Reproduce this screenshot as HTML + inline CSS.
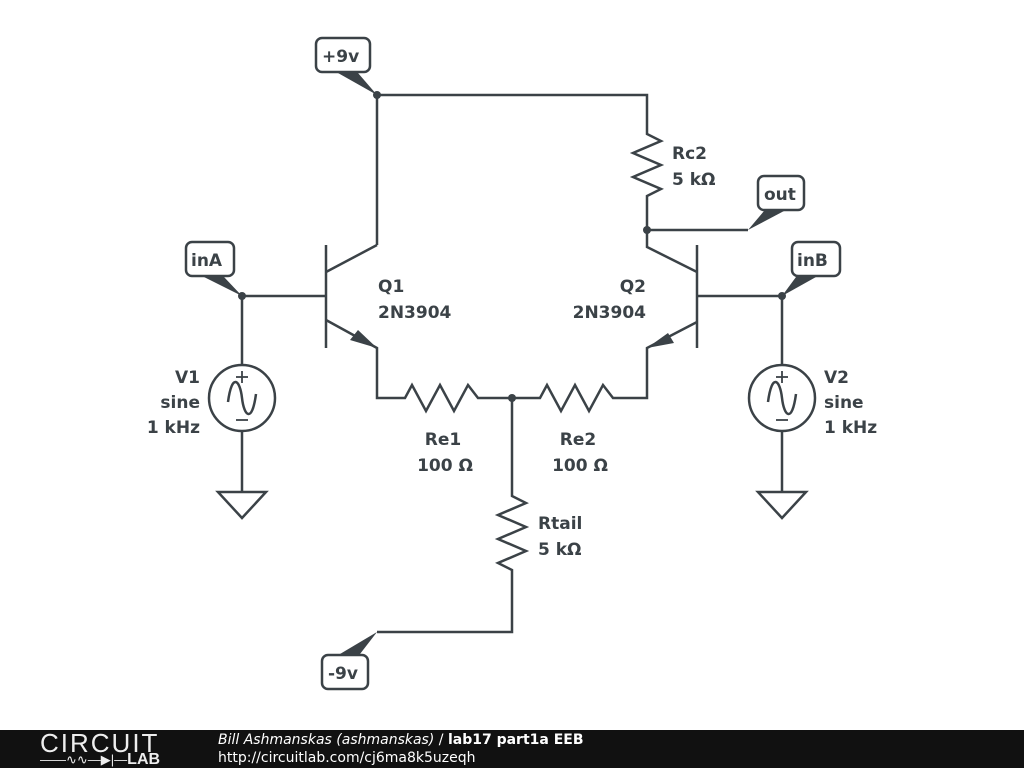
<!DOCTYPE html>
<html><head><meta charset="utf-8"><style>
body{margin:0;width:1024px;height:768px;background:#fff;overflow:hidden;font-family:"Liberation Sans",sans-serif}
svg text{font-family:"DejaVu Sans","Liberation Sans",sans-serif;font-weight:bold;font-size:17px;fill:#3b4247}
#foot{position:absolute;left:0;top:730px;width:1024px;height:38px;background:#111;color:#fff}
</style></head><body>
<svg width="1024" height="730" viewBox="0 0 1024 730" style="position:absolute;left:0;top:0">
<g fill="none" stroke="#3b4247" stroke-width="2.5" stroke-linejoin="miter">
<polyline points="377,245 377,95 647,95 647,122"/>
<polyline points="647,122 647,134 661,141 633,153 661,165 633,177 661,189 647,196 647,247 697,272"/>
<polyline points="647,230 748,230"/>
<line x1="326" y1="245" x2="326" y2="348"/>
<polyline points="326,272 377,245"/>
<polyline points="242,296 326,296"/>
<polyline points="326,320 377,348 377,398 405,398 412,385 426,411 440,385 454,411 468,385 478,398 512,398 540,398 547,385 561,411 575,385 589,411 603,385 613,398 647,398 647,348 697,322"/>
<line x1="697" y1="245" x2="697" y2="348"/>
<polyline points="697,296 782,296"/>
<polyline points="512,398 512,496 526,503 498,515 526,527 498,539 526,551 498,563 512,570 512,632 377,632"/>
<line x1="242" y1="296" x2="242" y2="365"/>
<line x1="242" y1="431" x2="242" y2="492"/>
<circle cx="242" cy="398" r="33"/>
<path d="M228,402 C232,372 240,380 242,398 C244,416 252,424 256,394"/>
<line x1="236" y1="377" x2="248" y2="377" stroke-width="1.8"/><line x1="242" y1="371" x2="242" y2="383" stroke-width="1.8"/>
<line x1="236" y1="420" x2="248" y2="420" stroke-width="1.8"/>
<polygon points="218,492 266,492 242,518"/>
<line x1="782" y1="296" x2="782" y2="365"/>
<line x1="782" y1="431" x2="782" y2="492"/>
<circle cx="782" cy="398" r="33"/>
<path d="M768,402 C772,372 780,380 782,398 C784,416 792,424 796,394"/>
<line x1="776" y1="377" x2="788" y2="377" stroke-width="1.8"/><line x1="782" y1="371" x2="782" y2="383" stroke-width="1.8"/>
<line x1="776" y1="420" x2="788" y2="420" stroke-width="1.8"/>
<polygon points="758,492 806,492 782,518"/>
<rect x="316" y="38" width="54" height="34" rx="6" fill="#fff"/>
<rect x="186" y="242" width="48" height="34" rx="6" fill="#fff"/>
<rect x="758" y="176" width="46" height="34" rx="6" fill="#fff"/>
<rect x="792" y="242" width="48" height="34" rx="6" fill="#fff"/>
<rect x="322" y="655" width="46" height="34" rx="6" fill="#fff"/>
</g>
<g fill="#3b4247">
<polygon points="338,73 358,73 377,95"/>
<polygon points="204,277 224,277 242,296"/>
<polygon points="764,211 784,211 748,230"/>
<polygon points="796,277 816,277 782,296"/>
<polygon points="377,632 360,654 340,654"/>
<polygon points="377,348 350,340 358,330"/>
<polygon points="647,348 668,333 674,343"/>
<circle cx="377" cy="95" r="4"/><circle cx="242" cy="296" r="4"/><circle cx="647" cy="230" r="4"/>
<circle cx="782" cy="296" r="4"/><circle cx="512" cy="398" r="4"/>
</g>
<text x="322" y="62">+9v</text>
<text x="191" y="266">inA</text>
<text x="764" y="200">out</text>
<text x="797" y="266">inB</text>
<text x="328" y="679">-9v</text>
<text x="672" y="159">Rc2</text><text x="672" y="185">5 kΩ</text>
<text x="378" y="292">Q1</text><text x="378" y="318">2N3904</text>
<text x="646" y="292" text-anchor="end">Q2</text><text x="646" y="318" text-anchor="end">2N3904</text>
<text x="200" y="383" text-anchor="end">V1</text><text x="200" y="408" text-anchor="end">sine</text><text x="200" y="433" text-anchor="end">1 kHz</text>
<text x="824" y="383">V2</text><text x="824" y="408">sine</text><text x="824" y="433">1 kHz</text>
<text x="443" y="445" text-anchor="middle">Re1</text><text x="445" y="471" text-anchor="middle">100 Ω</text>
<text x="578" y="445" text-anchor="middle">Re2</text><text x="580" y="471" text-anchor="middle">100 Ω</text>
<text x="538" y="529">Rtail</text><text x="538" y="555">5 kΩ</text>
</svg>
<div id="foot">
<div style="position:absolute;left:40px;top:0;font-size:26px;letter-spacing:2px;line-height:26px;color:#eee">CIRCUIT</div>
<div style="position:absolute;left:40px;top:23px;font-size:13px;line-height:14px;color:#eee">——∿∿—▶|—<b style="font-size:16px">LAB</b></div>
<div style="position:absolute;left:218px;top:2px;font-size:14px;line-height:17px;font-family:'DejaVu Sans',sans-serif"><i>Bill Ashmanskas (ashmanskas)</i> / <b>lab17 part1a EEB</b></div>
<div style="position:absolute;left:218px;top:20px;font-size:14px;line-height:17px;font-family:'DejaVu Sans',sans-serif">http://circuitlab.com/cj6ma8k5uzeqh</div>
</div>
</body></html>
